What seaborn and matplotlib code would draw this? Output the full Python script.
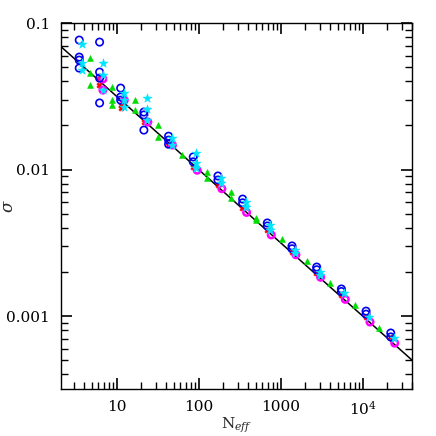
import numpy as np
import pandas as pd
import matplotlib
matplotlib.use("Agg")
import matplotlib.pyplot as plt
import seaborn as sns
from matplotlib.ticker import LogLocator, NullFormatter, FixedLocator, FixedFormatter

# ---------------- data ----------------
blue_N = [3.5, 3.5, 3.5, 3.5, 6.2, 6.2, 6.2, 6.2, 11.2, 11.2, 11.2, 21.5, 21.5, 21.5,
          43, 43, 43, 86, 86, 172, 172, 344, 344, 688, 688, 1376, 1376, 2752, 2752,
          5504, 5504, 11008, 11008, 22016, 22016]
blue_sigma = [0.0766, 0.0586, 0.0559, 0.0493, 0.0742, 0.0463, 0.0421, 0.0285,
              0.0360, 0.0313, 0.0298, 0.0247, 0.0236, 0.0186,
              0.0169, 0.0159, 0.0149, 0.0122, 0.0113, 0.00904, 0.00849,
              0.00629, 0.00593, 0.00432, 0.00412, 0.00301, 0.00288,
              0.00216, 0.00207, 0.00153, 0.00147, 0.00108, 0.00103, 0.000766, 0.000720]

cyan_N = [3.8, 3.8, 3.8, 6.8, 6.8, 6.8, 12.2, 12.2, 12.2, 23.5, 23.5, 23.5,
          47, 47, 94, 94, 94, 188, 188, 375, 375, 750, 750, 1500, 1500,
          3000, 3000, 6000, 12000, 24000]
cyan_sigma = [0.0719, 0.0533, 0.0478, 0.0533, 0.0442, 0.0350, 0.0333, 0.0300, 0.0267,
              0.0308, 0.0259, 0.0218, 0.0164, 0.0147, 0.0130, 0.0111, 0.0102,
              0.00872, 0.0081, 0.00600, 0.00555, 0.00418, 0.00386, 0.00283, 0.00270,
              0.00199, 0.00190, 0.00144, 0.00099, 0.00071]

magenta_N = [6.8, 6.8, 12.4, 24, 48, 96, 192, 384, 768, 1536, 3070, 6140, 12300, 24600]
magenta_sigma = [0.0415, 0.0349, 0.0298, 0.0211, 0.0147, 0.0099, 0.0074, 0.0051,
                 0.00358, 0.00262, 0.00184, 0.00130, 0.00091, 0.000653]

red_N = [6.1, 6.1, 11.3, 11.3, 21.4, 42, 85, 170, 340, 680, 1360, 2720, 5440, 10900, 21800]
red_sigma = [0.0415, 0.0378, 0.0276, 0.0263, 0.0211, 0.0147, 0.0104, 0.0079, 0.0055,
             0.00386, 0.00274, 0.00197, 0.00140, 0.00099, 0.00072]

green_N = [4.8, 4.8, 4.8, 8.7, 8.7, 8.7, 16.6, 16.6, 32, 32, 63, 127, 127, 250, 250,
           505, 505, 1030, 2070, 4000, 8000, 16000]
green_sigma = [0.0577, 0.0456, 0.0378, 0.0366, 0.0298, 0.0276, 0.0298, 0.0255,
               0.0201, 0.0167, 0.0126, 0.0096, 0.0087, 0.0070, 0.0064, 0.0047, 0.0045,
               0.00336, 0.00237, 0.00168, 0.00119, 0.00083]

fit_coef = 0.1
line_N = [2.1, 40000]

xtick_vals = [10, 100, 1000, 10000]
xtick_labels = ["10", "100", "1000", "10$^4$"]
ytick_vals = [0.1, 0.01, 0.001]
ytick_labels = ["0.1", "0.01", "0.001"]

# ---------------- plot ----------------
sns.set_theme(style="ticks")
plt.rcParams["font.family"] = ["DejaVu Serif"]
plt.rcParams["mathtext.fontset"] = "dejavuserif"

fig = plt.figure(figsize=(4.36, 4.36), dpi=100)
ax = fig.add_axes([0.140, 0.108, 0.805, 0.839])

line_df = pd.DataFrame({"N": line_N, "sigma": [fit_coef / np.sqrt(n) for n in line_N]})
sns.lineplot(data=line_df, x="N", y="sigma", color="black", lw=1.1, ax=ax, zorder=1)

sns.scatterplot(x=green_N, y=green_sigma, marker="^", color="#00dd00", s=18,
                edgecolor="#00dd00", linewidth=0.4, ax=ax, zorder=2)
sns.scatterplot(x=red_N, y=red_sigma, marker="X", color="red", s=16,
                edgecolor="red", linewidth=0.3, ax=ax, zorder=3)
sns.scatterplot(x=magenta_N, y=magenta_sigma, marker="o", facecolor="none",
                edgecolor="#ff00ff", s=22, linewidth=1.8, ax=ax, zorder=3)
sns.scatterplot(x=blue_N, y=blue_sigma, marker="o", facecolor="none",
                edgecolor="#0000ee", s=28, linewidth=1.2, ax=ax, zorder=4)
sns.scatterplot(x=cyan_N, y=cyan_sigma, marker="*", color="#00e5ff", s=45,
                edgecolor="#00e5ff", linewidth=0.4, ax=ax, zorder=5)

ax.set_xscale("log")
ax.set_yscale("log")
ax.set_xlim(2.1, 40000)
ax.set_ylim(0.000318, 0.1)

ax.xaxis.set_major_locator(FixedLocator(xtick_vals))
ax.xaxis.set_major_formatter(FixedFormatter(xtick_labels))
ax.yaxis.set_major_locator(FixedLocator(ytick_vals))
ax.yaxis.set_major_formatter(FixedFormatter(ytick_labels))
ax.xaxis.set_minor_locator(LogLocator(base=10, subs=np.arange(2, 10), numticks=20))
ax.yaxis.set_minor_locator(LogLocator(base=10, subs=np.arange(2, 10), numticks=20))
ax.xaxis.set_minor_formatter(NullFormatter())
ax.yaxis.set_minor_formatter(NullFormatter())

for axis in (ax.xaxis, ax.yaxis):
    axis.set_tick_params(which="major", direction="in", length=8, width=1.2,
                         color="black", pad=8, labelsize=11, labelcolor="black")
    axis.set_tick_params(which="minor", direction="in", length=5, width=1.0,
                         color="black")
ax.tick_params(which="both", top=True, right=True, bottom=True, left=True)

for sp in ax.spines.values():
    sp.set_visible(True)
    sp.set_color("black")
    sp.set_linewidth(1.0)

ax.set_xlabel(r"N$_{\it eff}$", fontsize=11)
ax.set_ylabel(r"$\sigma$", fontsize=12)
ax.xaxis.set_label_coords(0.5, -0.072)
ax.yaxis.set_label_coords(-0.125, 0.5)
ax.grid(False)

fig.savefig("out.png", dpi=100)
